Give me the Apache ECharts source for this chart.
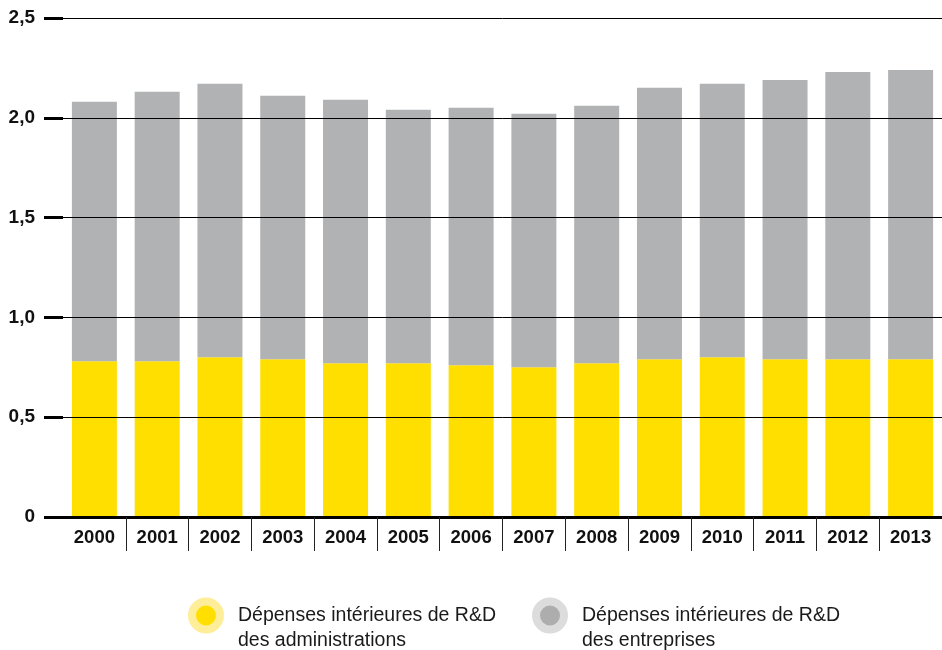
<!DOCTYPE html>
<html>
<head>
<meta charset="utf-8">
<script src="https://cdn.jsdelivr.net/npm/echarts@6/dist/echarts.min.js"></script>
<style>
  html, body { margin: 0; padding: 0; background: #fff; }
  #chart { width: 942px; height: 650px; }
</style>
</head>
<body>
<div id="chart"></div>
<script>
// Years on the horizontal axis
const years = ['2000', '2001', '2002', '2003', '2004', '2005', '2006',
               '2007', '2008', '2009', '2010', '2011', '2012', '2013'];

// R&D spending of public administrations (% of GDP)
const administrations = [0.78, 0.78, 0.80, 0.79, 0.77, 0.77, 0.76,
                         0.75, 0.77, 0.79, 0.80, 0.79, 0.79, 0.79];

// R&D spending of businesses (% of GDP), stacked on top
const entreprises = [1.30, 1.35, 1.37, 1.32, 1.32, 1.27, 1.29,
                     1.27, 1.29, 1.36, 1.37, 1.40, 1.44, 1.45];

// Value-axis ticks
const yTicks = [0, 0.5, 1.0, 1.5, 2.0, 2.5];

const nameAdmin = 'Dépenses intérieures de R&D\ndes administrations';
const nameEntr = 'Dépenses intérieures de R&D\ndes entreprises';

const YELLOW = '#FFDF00';
const GREY = '#B1B2B4';
const FONT = '"Liberation Sans", Arial, Helvetica, sans-serif';

const chart = echarts.init(document.getElementById('chart'), null, { renderer: 'canvas' });

function legendFor(name, left, inner, halo) {
  return {
    data: [{ name: name, itemStyle: { color: inner, borderColor: halo, borderWidth: 8 } }],
    left: left,
    top: 578,
    padding: 0,
    icon: 'circle',
    itemWidth: 54,
    itemHeight: 28,
    selectedMode: false,
    formatter: function (n) { return '\n' + n; },
    textStyle: {
      fontFamily: FONT,
      fontSize: 19.5,
      lineHeight: 25,
      color: '#1a1a1a'
    }
  };
}

chart.setOption({
  animation: false,
  backgroundColor: '#fff',
  grid: { left: 63, right: -3, top: 18, bottom: 133 },
  legend: [
    legendFor(nameAdmin, 188, YELLOW, '#FFEE99'),
    legendFor(nameEntr, 532, '#ADADAD', '#DCDCDC')
  ],
  xAxis: {
    type: 'category',
    data: years,
    z: 4,
    axisLine: { lineStyle: { color: '#000', width: 3 } },
    axisTick: {
      show: true,
      length: 34,
      interval: function (i) { return i > 0; },
      lineStyle: { color: '#222', width: 1 }
    },
    axisLabel: {
      margin: 11,
      fontFamily: FONT,
      fontSize: 18.5,
      fontWeight: 'bold',
      color: '#111'
    }
  },
  yAxis: {
    type: 'value',
    min: yTicks[0],
    max: yTicks[yTicks.length - 1],
    interval: 0.5,
    z: 3,
    axisLine: { show: false },
    axisTick: { show: true, length: 19, lineStyle: { color: '#000', width: 3 } },
    splitLine: { show: true, lineStyle: { color: '#000', width: 1 } },
    axisLabel: {
      margin: 28,
      fontFamily: FONT,
      fontSize: 19,
      fontWeight: 'bold',
      color: '#111',
      formatter: function (v) { return v === 0 ? '0' : v.toFixed(1).replace('.', ','); }
    }
  },
  series: [
    {
      name: nameAdmin,
      type: 'bar',
      stack: 'rd',
      barWidth: 45,
      data: administrations,
      itemStyle: { color: YELLOW }
    },
    {
      name: nameEntr,
      type: 'bar',
      stack: 'rd',
      barWidth: 45,
      data: entreprises,
      itemStyle: { color: GREY }
    }
  ]
});
</script>
</body>
</html>
